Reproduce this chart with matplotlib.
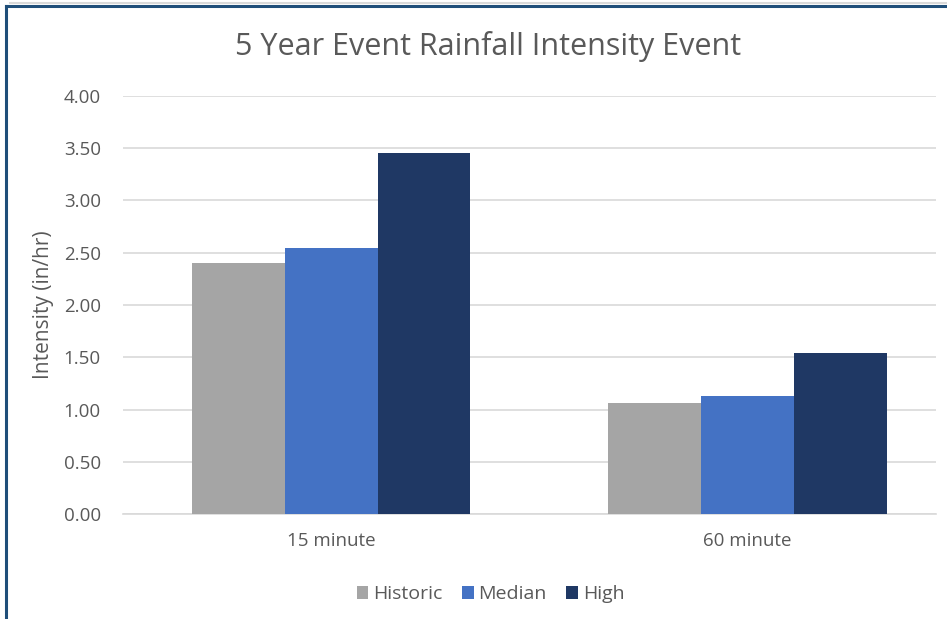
import matplotlib
matplotlib.use("Agg")
import matplotlib.pyplot as plt
import numpy as np
from matplotlib.lines import Line2D

plt.rcParams['font.family'] = ['Open Sans', 'DejaVu Sans']

# data
categories = ['15 minute', '60 minute']
series = ['Historic', 'Median', 'High']
historic = [2.40, 1.06]
median = [2.55, 1.13]
high = [3.45, 1.54]
colors = ['#A5A5A5', '#4472C4', '#1F3864']
y_ticks = [0, 0.5, 1.0, 1.5, 2.0, 2.5, 3.0, 3.5, 4.0]

txt = '#595959'

fig = plt.figure(figsize=(9.47, 6.19), dpi=100)
ax = fig.add_axes([0.1299, 0.1691, 0.8585, 0.676])

x = np.arange(len(categories))
w = 0.223
for i, (vals, name) in enumerate(zip([historic, median, high], series)):
    ax.bar(x + (i - 1) * w, vals, w, color=colors[i], label=name, zorder=3)

ax.set_ylim(0, 4)
ax.set_xlim(-0.5, 1.453)
ax.set_yticks(y_ticks)
ax.set_yticklabels(['%.2f' % v for v in y_ticks])
ax.set_xticks(x)
ax.set_xticklabels(categories)
ax.yaxis.grid(True, color='#D9D9D9', linewidth=1.2, zorder=0)
for s in ['top', 'right', 'left']:
    ax.spines[s].set_visible(False)
ax.spines['bottom'].set_color('#D9D9D9')
ax.spines['bottom'].set_linewidth(1.2)
ax.tick_params(axis='both', length=0, colors=txt, labelsize=13.5)
ax.tick_params(axis='y', pad=16)
ax.tick_params(axis='x', pad=13)

ax.set_ylabel('Intensity (in/hr)', color=txt, fontsize=15, labelpad=7)

fig.text(0.515, 0.925, '5 Year Event Rainfall Intensity Event', ha='center', va='center',
         fontsize=22, color=txt)

leg = fig.legend(loc='center', bbox_to_anchor=(0.518, 0.04), ncol=3, frameon=False,
                 fontsize=14, handlelength=0.6, handleheight=0.6, handletextpad=0.25,
                 columnspacing=1.0)
for t in leg.get_texts():
    t.set_color(txt)

# outer frame lines
fig.add_artist(Line2D([0.011, 1.0], [0.995, 0.995], color='#D9D9D9', linewidth=1.5))
fig.add_artist(Line2D([0.006, 1.0], [0.99, 0.99], color='#1F4E79', linewidth=2.2))
fig.add_artist(Line2D([0.006, 0.006], [0.0, 0.99], color='#1F4E79', linewidth=2.2))

fig.savefig('out.png', dpi=100)
